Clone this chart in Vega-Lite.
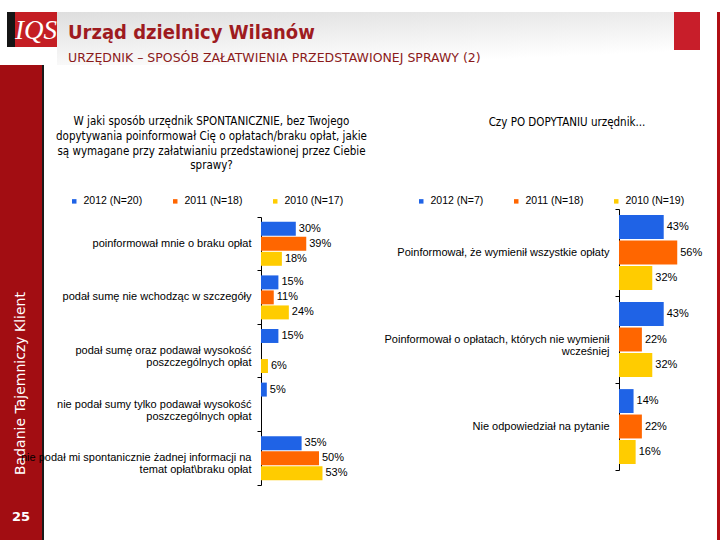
{
  "$schema": "https://vega.github.io/schema/vega-lite/v6.json",
  "padding": {"left": 0, "top": 12, "right": 0, "bottom": 0},
  "background": "white",
  "spacing": 53,
  "bounds": "flush",
  "config": {"view": {"stroke": null}, "font": "Liberation Sans"},
  "vconcat": [
    {
      "spacing": 0,
      "bounds": "flush",
      "hconcat": [
        {
          "width": 7, "height": 35,
          "data": {"values": [{"t": ""}]},
          "mark": {"type": "text"},
          "encoding": {"text": {"field": "t"}}
        },
        {
          "width": 8, "height": 35,
          "view": {"fill": "#151515"},
          "data": {"values": [{"t": ""}]},
          "mark": {"type": "text"},
          "encoding": {"text": {"field": "t"}}
        },
        {
          "width": 42, "height": 35,
          "view": {"fill": "#C41E24"},
          "data": {"values": [{"t": "IQS"}]},
          "mark": {"type": "text", "color": "white", "font": "Liberation Serif", "fontStyle": "italic", "fontSize": 27, "baseline": "middle", "align": "center", "dy": 1},
          "encoding": {"text": {"field": "t"}}
        },
        {
          "width": 617, "height": 53,
          "view": {"fill": {"gradient": "linear", "x1": 0, "y1": 0, "x2": 0.5, "y2": 1, "stops": [{"offset": 0, "color": "#dedede"}, {"offset": 1, "color": "#ffffff"}]}},
          "title": {
            "text": "Urząd dzielnicy Wilanów",
            "subtitle": "URZĘDNIK – SPOSÓB ZAŁATWIENIA PRZEDSTAWIONEJ SPRAWY (2)",
            "orient": "top", "anchor": "start", "frame": "group",
            "offset": -52, "dx": 11,
            "font": "DejaVu Sans Condensed", "fontSize": 20, "fontWeight": "bold", "color": "#9E1B1F",
            "subtitleFont": "DejaVu Sans", "subtitleFontSize": 12.5, "subtitleColor": "#8B1A1A", "subtitlePadding": 9
          },
          "data": {"values": [{"t": ""}]},
          "mark": {"type": "text"},
          "encoding": {"text": {"field": "t"}}
        },
        {
          "width": 26, "height": 38,
          "view": {"fill": "#C81E2A"},
          "data": {"values": [{"t": ""}]},
          "mark": {"type": "text"},
          "encoding": {"text": {"field": "t"}}
        },
        {
          "width": 17, "height": 53,
          "data": {"values": [{"t": ""}]},
          "mark": {"type": "text"},
          "encoding": {"text": {"field": "t"}}
        },
        {
          "width": 3, "height": 53,
          "view": {"fill": "#B00E14"},
          "data": {"values": [{"t": ""}]},
          "mark": {"type": "text"},
          "encoding": {"text": {"field": "t"}}
        }
      ]
    },
    {
      "spacing": 0,
      "bounds": "flush",
      "resolve": {"scale": {"color": "independent", "yOffset": "independent", "x": "independent", "y": "independent"}, "legend": {"color": "independent"}},
      "hconcat": [
        {
          "width": 42, "height": 475,
          "view": {"fill": "#A20D12"},
          "title": {
            "text": "Badanie Tajemniczy Klient",
            "orient": "left", "anchor": "start", "frame": "group",
            "offset": -28, "dx": 65, "color": "white", "fontSize": 14, "font": "DejaVu Sans", "fontWeight": "normal"
          },
          "data": {"values": [{"page": "25"}]},
          "mark": {"type": "text", "color": "white", "fontWeight": "bold", "fontSize": 13, "font": "DejaVu Sans", "dy": 214},
          "encoding": {"text": {"field": "page"}}
        },
        {
          "width": 2, "height": 475,
          "view": {"fill": "#1a1a1a"},
          "data": {"values": [{"t": ""}]},
          "mark": {"type": "text"},
          "encoding": {"text": {"field": "t"}}
        },
        {
          "width": 333, "height": 475,
          "title": {
            "text": ["W jaki sposób urzędnik SPONTANICZNIE, bez Twojego", "dopytywania poinformował Cię o opłatach/braku opłat, jakie", "są wymagane przy załatwianiu przedstawionej przez Ciebie", "sprawy?"],
            "orient": "top", "anchor": "middle", "frame": "group", "offset": -113, "dx": 1,
            "font": "DejaVu Sans Condensed", "fontSize": 11.5, "fontWeight": "normal", "color": "black", "lineHeight": 14.7
          },
          "data": {"values": [
            {"category": "poinformował mnie o braku opłat", "series": "2012 (N=20)", "share": 0.30},
            {"category": "poinformował mnie o braku opłat", "series": "2011 (N=18)", "share": 0.39},
            {"category": "poinformował mnie o braku opłat", "series": "2010 (N=17)", "share": 0.18},
            {"category": "podał sumę nie wchodząc w szczegóły", "series": "2012 (N=20)", "share": 0.15},
            {"category": "podał sumę nie wchodząc w szczegóły", "series": "2011 (N=18)", "share": 0.11},
            {"category": "podał sumę nie wchodząc w szczegóły", "series": "2010 (N=17)", "share": 0.24},
            {"category": "podał sumę oraz podawał wysokość\nposzczególnych opłat", "series": "2012 (N=20)", "share": 0.15},
            {"category": "podał sumę oraz podawał wysokość\nposzczególnych opłat", "series": "2010 (N=17)", "share": 0.06},
            {"category": "nie podał sumy tylko podawał wysokość\nposzczególnych opłat", "series": "2012 (N=20)", "share": 0.05},
            {"category": "nie podał mi spontanicznie żadnej informacji na\ntemat opłat\\braku opłat", "series": "2012 (N=20)", "share": 0.35},
            {"category": "nie podał mi spontanicznie żadnej informacji na\ntemat opłat\\braku opłat", "series": "2011 (N=18)", "share": 0.50},
            {"category": "nie podał mi spontanicznie żadnej informacji na\ntemat opłat\\braku opłat", "series": "2010 (N=17)", "share": 0.53}
          ]},
          "encoding": {
            "y": {
              "field": "category", "type": "nominal",
              "scale": {"domain": ["poinformował mnie o braku opłat", "podał sumę nie wchodząc w szczegóły", "podał sumę oraz podawał wysokość\nposzczególnych opłat", "nie podał sumy tylko podawał wysokość\nposzczególnych opłat", "nie podał mi spontanicznie żadnej informacji na\ntemat opłat\\braku opłat"], "range": [152, 420], "paddingInner": 0, "paddingOuter": 0},
              "axis": {"title": null, "offset": -217, "domainColor": "black", "domainWidth": 1, "tickColor": "black", "tickSize": 4, "bandPosition": 1, "tickExtra": true, "labelPadding": 6, "labelFont": "Liberation Sans", "labelFontSize": 11, "labelColor": "black", "labelLimit": 400, "labelLineHeight": 12, "labelExpr": "datum.value ? split(datum.value, '\\n') : ''", "grid": false}
            },
            "yOffset": {"field": "series", "type": "nominal", "scale": {"domain": ["2012 (N=20)", "2011 (N=18)", "2010 (N=17)"], "paddingInner": 0.07, "paddingOuter": 0.32}},
            "x": {"field": "share", "type": "quantitative", "scale": {"domain": [0, 1], "range": [217, 333]}, "axis": null}
          },
          "layer": [
            {
              "mark": {"type": "bar"},
              "encoding": {
                "color": {
                  "field": "series", "type": "nominal",
                  "scale": {"domain": ["2012 (N=20)", "2011 (N=18)", "2010 (N=17)"], "range": ["#1F63E6", "#FF6600", "#FFCC00"]},
                  "legend": {"orient": "none", "legendX": 25, "legendY": 131, "direction": "horizontal", "columns": 3, "columnPadding": 27, "padding": 0, "title": null, "symbolType": "square", "symbolSize": 20, "symbolStrokeWidth": 0, "labelFontSize": 10.5, "labelFont": "Liberation Sans", "labelColor": "black", "labelOffset": 4}
                }
              }
            },
            {
              "mark": {"type": "text", "align": "left", "baseline": "middle", "dx": 3, "fontSize": 11, "font": "Liberation Sans", "color": "black"},
              "encoding": {"text": {"field": "share", "type": "quantitative", "format": ".0%"}}
            }
          ]
        },
        {
          "width": 336, "height": 475,
          "title": {
            "text": "Czy PO DOPYTANIU urzędnik...",
            "orient": "top", "anchor": "middle", "frame": "group", "offset": -69, "dx": 22,
            "font": "DejaVu Sans Condensed", "fontSize": 11.5, "fontWeight": "normal", "color": "black"
          },
          "data": {"values": [
            {"category": "Poinformował, że wymienił wszystkie opłaty", "series": "2012 (N=7)", "share": 0.43},
            {"category": "Poinformował, że wymienił wszystkie opłaty", "series": "2011 (N=18)", "share": 0.56},
            {"category": "Poinformował, że wymienił wszystkie opłaty", "series": "2010 (N=19)", "share": 0.32},
            {"category": "Poinformował o opłatach, których nie wymienił\nwcześniej", "series": "2012 (N=7)", "share": 0.43},
            {"category": "Poinformował o opłatach, których nie wymienił\nwcześniej", "series": "2011 (N=18)", "share": 0.22},
            {"category": "Poinformował o opłatach, których nie wymienił\nwcześniej", "series": "2010 (N=19)", "share": 0.32},
            {"category": "Nie odpowiedział na pytanie", "series": "2012 (N=7)", "share": 0.14},
            {"category": "Nie odpowiedział na pytanie", "series": "2011 (N=18)", "share": 0.22},
            {"category": "Nie odpowiedział na pytanie", "series": "2010 (N=19)", "share": 0.16}
          ]},
          "encoding": {
            "y": {
              "field": "category", "type": "nominal",
              "scale": {"domain": ["Poinformował, że wymienił wszystkie opłaty", "Poinformował o opłatach, których nie wymienił\nwcześniej", "Nie odpowiedział na pytanie"], "range": [144, 405], "paddingInner": 0, "paddingOuter": 0},
              "axis": {"title": null, "offset": -242, "domainColor": "black", "domainWidth": 1, "tickColor": "black", "tickSize": 4, "bandPosition": 1, "tickExtra": true, "labelPadding": 6, "labelFont": "Liberation Sans", "labelFontSize": 11, "labelColor": "black", "labelLimit": 400, "labelLineHeight": 12, "labelExpr": "datum.value ? split(datum.value, '\\n') : ''", "grid": false}
            },
            "yOffset": {"field": "series", "type": "nominal", "scale": {"domain": ["2012 (N=7)", "2011 (N=18)", "2010 (N=19)"], "paddingInner": 0.06, "paddingOuter": 0.24}},
            "x": {"field": "share", "type": "quantitative", "scale": {"domain": [0, 1], "range": [242, 346]}, "axis": null}
          },
          "layer": [
            {
              "mark": {"type": "bar"},
              "encoding": {
                "color": {
                  "field": "series", "type": "nominal",
                  "scale": {"domain": ["2012 (N=7)", "2011 (N=18)", "2010 (N=19)"], "range": ["#1F63E6", "#FF6600", "#FFCC00"]},
                  "legend": {"orient": "none", "legendX": 39, "legendY": 131, "direction": "horizontal", "columns": 3, "columnPadding": 27, "padding": 0, "title": null, "symbolType": "square", "symbolSize": 20, "symbolStrokeWidth": 0, "labelFontSize": 10.5, "labelFont": "Liberation Sans", "labelColor": "black", "labelOffset": 4}
                }
              }
            },
            {
              "mark": {"type": "text", "align": "left", "baseline": "middle", "dx": 3, "fontSize": 11, "font": "Liberation Sans", "color": "black"},
              "encoding": {"text": {"field": "share", "type": "quantitative", "format": ".0%"}}
            }
          ]
        },
        {
          "width": 4, "height": 475,
          "data": {"values": [{"t": ""}]},
          "mark": {"type": "text"},
          "encoding": {"text": {"field": "t"}}
        },
        {
          "width": 3, "height": 475,
          "view": {"fill": "#B00E14"},
          "data": {"values": [{"t": ""}]},
          "mark": {"type": "text"},
          "encoding": {"text": {"field": "t"}}
        }
      ]
    }
  ]
}
